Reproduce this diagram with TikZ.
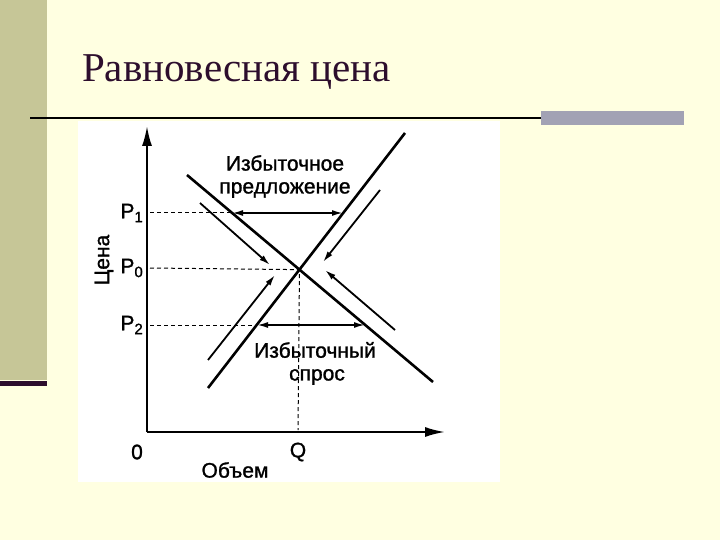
\documentclass[tikz,border=0pt]{standalone}
\usepackage{fontspec}
\setmainfont{Liberation Serif}
\newfontfamily\titlefont{Liberation Serif}
\newfontfamily\grafont[FakeBold=1.2]{Liberation Sans}
\usetikzlibrary{arrows.meta}

\definecolor{slidebg}{HTML}{FFFFE1}
\definecolor{sidebar}{HTML}{C6C697}
\definecolor{darkplum}{HTML}{2D0E2D}
\definecolor{bargray}{HTML}{A2A2B4}

\newcommand{\plab}[1]{P\raisebox{-0.35ex}{\fontsize{15}{15}\selectfont #1}}

\begin{document}
\begin{tikzpicture}[x=1pt, y=-1pt,
    curve/.style={line width=2.6pt, black},
    axis/.style={line width=2pt, black, -{Latex[length=20pt, width=10pt]}},
    hint/.style={line width=1.8pt, black, -{Latex[length=11pt, width=6pt]}},
    gap/.style={line width=1.8pt, black, {Latex[length=11pt, width=6pt]}-{Latex[length=11pt, width=6pt]}},
    guide/.style={line width=1pt, black, dash pattern=on 4pt off 3pt},
    txt/.style={font=\grafont\fontsize{21}{25}\selectfont, inner sep=0pt}]
        % slide
        \fill[slidebg] (0, 0) rectangle (720, 540);
        \useasboundingbox (0, 0) rectangle (720, 540);
        \fill[sidebar] (0, 0) rectangle (47, 380);
        \fill[darkplum] (0, 381) rectangle (47, 386);
        \node[anchor=base west, inner sep=0pt, text=darkplum, font=\titlefont\fontsize{41}{48}\selectfont] (title) at (82, 82) {Равновесная цена};
        \draw[line width=2pt, black] (30, 118) -- (541, 118);
        \fill[bargray] (541, 111) rectangle (684, 125);
        \fill[white] (78, 121) rectangle (500, 482);

        % axes
        \coordinate (O) at (147, 432);
        \coordinate (Ytop) at (147, 126);
        \coordinate (Xend) at (445, 432);
        \draw[axis] (O) -- (Ytop);
        \draw[axis] (O) -- (Xend);

        % supply and demand
        \coordinate (S1) at (208, 388);
        \coordinate (S2) at (405, 133);
        \coordinate (D1) at (187, 175);
        \coordinate (D2) at (433, 382);
        \draw[curve] (S1) -- (S2);
        \draw[curve] (D1) -- (D2);
        \coordinate (E) at (intersection of S1--S2 and D1--D2);

        % price levels
        \coordinate (P1a) at (150, 213);
        \coordinate (P1d) at (232, 213);
        \coordinate (P1s) at (343, 213);
        \coordinate (P0a) at (150, 268);
        \coordinate (Qa) at (298, 430);
        \coordinate (P2a) at (150, 325);
        \coordinate (P2s) at (257, 325);
        \coordinate (P2d) at (365, 325);
        \draw[guide] (P1a) -- (P1d);
        \draw[guide] (P0a) -- (E) -- (Qa);
        \draw[guide] (P2a) -- (P2s);
        \draw[gap] (P1d) -- (P1s);
        \draw[gap] (P2s) -- (P2d);

        % moves to equilibrium
        \coordinate (A1) at (200, 203);
        \coordinate (B1) at (270, 265);
        \coordinate (A2) at (380, 190);
        \coordinate (B2) at (323, 262);
        \coordinate (A3) at (208, 360);
        \coordinate (B3) at (275, 275);
        \coordinate (A4) at (395, 330);
        \coordinate (B4) at (325, 270);
        \draw[hint] (A1) -- (B1);
        \draw[hint] (A2) -- (B2);
        \draw[hint] (A3) -- (B3);
        \draw[hint] (A4) -- (B4);

        % labels
        \node[txt, anchor=east] (p1) at (143, 213) {\plab{1}};
        \node[txt, anchor=east] (p0) at (143, 268) {\plab{0}};
        \node[txt, anchor=east] (p2) at (143, 325) {\plab{2}};
        \node[txt, rotate=90] (price) at (104, 260) {Цена};
        \node[txt] (zero) at (137, 452) {0};
        \node[txt] (q) at (298, 452) {Q};
        \node[txt] (volume) at (235, 470) {Объем};
        \node[txt] (surplus1) at (285, 163) {Избыточное};
        \node[txt] (surplus2) at (285, 190) {предложение};
        \node[txt] (short1) at (315, 350) {Избыточный};
        \node[txt] (short2) at (317, 377) {спрос};

    \end{tikzpicture}
\end{document}
